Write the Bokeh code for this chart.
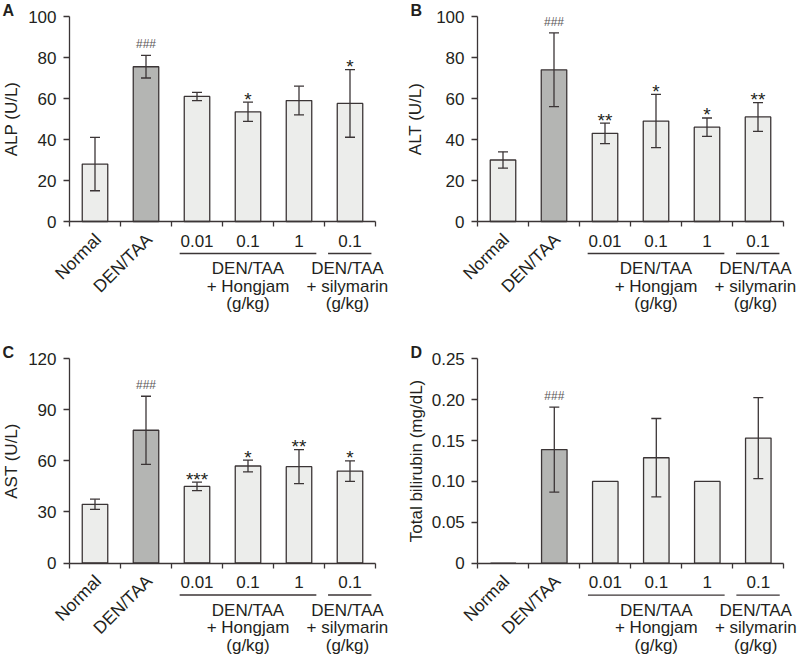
import math
from bokeh.plotting import figure
from bokeh.layouts import gridplot
from bokeh.models import (ColumnDataSource, LinearAxis, FixedTicker, Whisker, TeeHead,
                          NumeralTickFormatter, Range1d)
from bokeh.core.properties import value
from bokeh.embed import file_html
from bokeh.resources import INLINE

# ---------------- data ----------------
categories = ["Normal", "DEN/TAA", "0.01", "0.1", "1", "0.1"]
rotated_labels = ["Normal", "DEN/TAA"]
dose_labels = ["0.01", "0.1", "1", "0.1"]
group_text = [["DEN/TAA", "+ Hongjam", "(g/kg)"], ["DEN/TAA", "+ silymarin", "(g/kg)"]]

alp_mean = [28.0, 75.5, 61.0, 53.5, 59.0, 57.6]
alp_err = [13.0, 5.5, 2.0, 4.7, 7.0, 16.5]
alp_marks = ["", "###", "", "*", "", "*"]

alt_mean = [30.0, 74.0, 43.0, 49.0, 46.0, 51.0]
alt_err = [4.0, 18.0, 5.0, 13.0, 4.5, 7.0]
alt_marks = ["", "###", "**", "*", "*", "**"]

ast_mean = [34.5, 78.0, 45.0, 57.0, 56.6, 54.0]
ast_err = [3.0, 20.0, 2.5, 3.5, 10.0, 6.0]
ast_marks = ["", "###", "***", "*", "**", "*"]

tbil_mean = [0.0, 0.139, 0.100, 0.129, 0.100, 0.153]
tbil_err = [0.0, 0.052, 0.0, 0.048, 0.0, 0.0495]
tbil_marks = ["", "###", "", "", "", ""]

alp_ticks = [0, 20, 40, 60, 80, 100]
alt_ticks = [0, 20, 40, 60, 80, 100]
ast_ticks = [0, 30, 60, 90, 120]
tbil_ticks = [0, 0.05, 0.10, 0.15, 0.20, 0.25]

# ---------------- style / layout ----------------
FONT = "Liberation Sans"
INK = "#231F20"
EDGE = "#3B3536"
LIGHT = "#ECEDEB"
DARK = "#B4B5B3"
HASH = "#5A5657"
CAT_PX = 51.0
GROUP_SPANS = [(2.16, 4.84), (5.07, 5.92)]
GROUP_CENTERS = [3.5, 5.45]


def panel(letter, ylabel, means, errs, marks, ticks, W, H, axis_px, zero_px, top_px,
          label_standoff, letter_px, letter_base, fmt=None):
    top_val = ticks[-1]
    ppu = (zero_px - top_px) / top_val
    x0 = -axis_px / CAT_PX
    x1 = (W - axis_px) / CAT_PX
    y0 = -(H - zero_px) / ppu
    y1 = zero_px / ppu
    p = figure(width=W, height=H, x_range=Range1d(x0, x1), y_range=Range1d(y0, y1),
               x_axis_type=None, y_axis_type=None, toolbar_location=None,
               output_backend="svg", min_border=0, outline_line_color=None)
    p.background_fill_color = "white"
    p.border_fill_color = "white"

    n = len(categories)
    xs = [i + 0.5 for i in range(n)]
    colors = [DARK if c == "DEN/TAA" else LIGHT for c in categories]

    # y axis
    yax = LinearAxis(fixed_location=0, bounds=(0, top_val), ticker=FixedTicker(ticks=ticks),
                     axis_label=ylabel, axis_label_text_font=FONT,
                     axis_label_text_font_size="17px", axis_label_text_font_style="normal",
                     axis_label_text_color=INK, axis_label_standoff=label_standoff,
                     major_label_text_font=FONT, major_label_text_font_size="17px",
                     major_label_text_color=INK, major_label_standoff=7,
                     major_tick_out=6, major_tick_in=0, minor_tick_out=0, minor_tick_in=0,
                     axis_line_color=EDGE, axis_line_width=1.3, major_tick_line_color=EDGE,
                     major_tick_line_width=1.3)
    if fmt is not None:
        yax.formatter = fmt
        yax.major_label_overrides = {0: "0"}
    p.add_layout(yax, "left")

    # bars
    src = ColumnDataSource(dict(x=xs, top=means, color=colors))
    p.vbar(x="x", top="top", bottom=0, width=0.5, fill_color="color", line_color=EDGE,
           line_width=1.3, source=src)

    # x axis (boundary ticks)
    xax = LinearAxis(fixed_location=0, bounds=(0, n), ticker=FixedTicker(ticks=list(range(n + 1))),
                     major_label_overrides={i: "" for i in range(n + 1)},
                     major_tick_out=5, major_tick_in=0, minor_tick_out=0, minor_tick_in=0,
                     axis_line_color=EDGE, axis_line_width=1.3, major_tick_line_color=EDGE,
                     major_tick_line_width=1.3)
    p.add_layout(xax, "below")

    # error bars
    ex = [xs[i] for i in range(n) if errs[i] > 0]
    eu = [means[i] + errs[i] for i in range(n) if errs[i] > 0]
    el = [means[i] - errs[i] for i in range(n) if errs[i] > 0]
    esrc = ColumnDataSource(dict(x=ex, upper=eu, lower=el))
    wk = Whisker(base="x", upper="upper", lower="lower", source=esrc, line_color=EDGE,
                 line_width=1.3, level="overlay",
                 upper_head=TeeHead(size=10, line_color=EDGE, line_width=1.3),
                 lower_head=TeeHead(size=10, line_color=EDGE, line_width=1.3))
    p.add_layout(wk)

    # significance marks
    hx = [xs[i] for i in range(n) if marks[i].startswith("#")]
    hy = [means[i] + errs[i] for i in range(n) if marks[i].startswith("#")]
    ht = [marks[i] for i in range(n) if marks[i].startswith("#")]
    p.text(x=hx, y=hy, text=ht, text_font=value(FONT), text_font_size="12px",
           text_color=HASH, text_align="center", text_baseline="alphabetic", y_offset=-11)
    sx = [xs[i] for i in range(n) if marks[i].startswith("*")]
    sy = [means[i] + errs[i] for i in range(n) if marks[i].startswith("*")]
    st = [marks[i] for i in range(n) if marks[i].startswith("*")]
    p.text(x=sx, y=sy, text=st, text_font=value(FONT), text_font_size="19px",
           text_color=INK, text_align="center", text_baseline="alphabetic", y_offset=-3)

    # category labels
    p.text(x=xs[:2], y=[0, 0], text=rotated_labels, angle=math.pi / 4,
           text_font=value(FONT), text_font_size="17.5px", text_color=INK,
           text_align="right", text_baseline="middle", x_offset=3, y_offset=15)
    p.text(x=xs[2:], y=[0] * 4, text=dose_labels, text_font=value(FONT),
           text_font_size="17px", text_color=INK, text_align="center",
           text_baseline="alphabetic", y_offset=19)

    # group lines and texts
    gy = -32 / ppu
    p.segment(x0=[a for a, b in GROUP_SPANS], x1=[b for a, b in GROUP_SPANS],
              y0=[gy, gy], y1=[gy, gy], line_color=EDGE, line_width=1.3)
    for gi, lines in enumerate(group_text):
        p.text(x=[GROUP_CENTERS[gi]] * 3, y=[0, 0, 0], text=lines, text_font=value(FONT),
               text_font_size="17px", text_color=INK, text_align="center",
               text_baseline="alphabetic", y_offset=[47, 64.5, 82])

    # panel letter
    p.text(x=[x0], y=[y1], text=[letter], text_font=value(FONT), text_font_size="16px",
           text_font_style="bold", text_color=INK, text_align="left",
           text_baseline="alphabetic", x_offset=letter_px, y_offset=letter_base)
    return p


pA = panel("A", "ALP (U/L)", alp_mean, alp_err, alp_marks, alp_ticks,
           400, 330, 69, 221, 16, 4, 2, 10)
pB = panel("B", "ALT (U/L)", alt_mean, alt_err, alt_marks, alt_ticks,
           398, 330, 77, 221, 16, 8, 10, 10)
pC = panel("C", "AST (U/L)", ast_mean, ast_err, ast_marks, ast_ticks,
           400, 328, 69, 232.5, 28.3, 4, 2, 22)
pD = panel("D", "Total bilirubin (mg/dL)", tbil_mean, tbil_err, tbil_marks, tbil_ticks,
           398, 328, 77.3, 232.7, 28.3, 2, 10, 22, fmt=NumeralTickFormatter(format="0.00"))

grid = gridplot([[pA, pB], [pC, pD]], toolbar_location=None)

open("out.html", "w").write(file_html(grid, INLINE))
